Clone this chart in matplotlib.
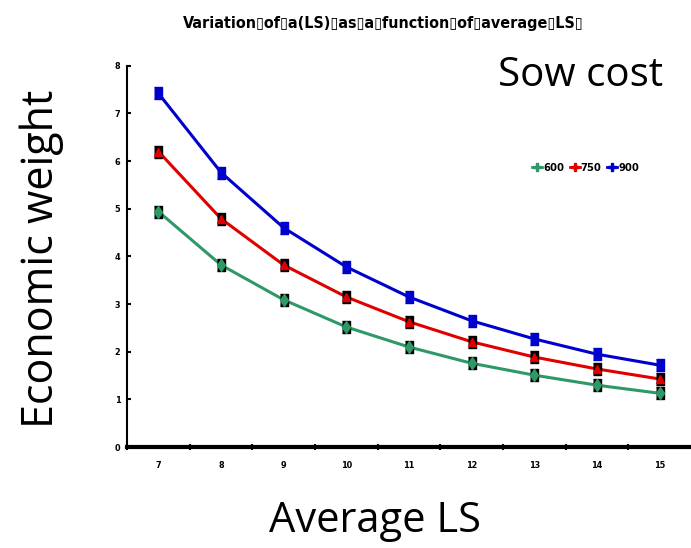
import matplotlib
matplotlib.use("Agg")
import matplotlib.pyplot as plt
from matplotlib.lines import Line2D

# data
avg_ls = [7, 8, 9, 10, 11, 12, 13, 14, 15]
w600 = [4.94, 3.82, 3.09, 2.52, 2.10, 1.76, 1.51, 1.30, 1.13]
w750 = [6.20, 4.79, 3.82, 3.15, 2.63, 2.21, 1.89, 1.64, 1.43]
w900 = [7.42, 5.76, 4.60, 3.78, 3.15, 2.65, 2.27, 1.95, 1.72]
series_names = ["600", "750", "900"]

narrow = dict(family="DejaVu Sans", stretch="condensed", weight="bold")
big = ["Open Sans", "DejaVu Sans"]

green = "#2e9966"
red = "#e00000"
blue = "#0000cc"

fig = plt.figure(figsize=(6.91, 5.48), dpi=100)
ax = fig.add_axes([0.184, 0.184, 0.816, 0.696])

xs = list(range(len(avg_ls)))
tall = [(-0.65, -1), (0.65, -1), (0.65, 1), (-0.65, 1)]

# green diamonds on black
ax.plot(xs, w600, color=green, lw=2.2, zorder=3)
ax.plot(xs, w600, ls="none", marker=tall, ms=8, color="black", zorder=4)
ax.plot(xs, w600, ls="none", marker="d", ms=6.5, color=green, zorder=5)

# red triangles on black
ax.plot(xs, w750, color=red, lw=2.2, zorder=3)
ax.plot(xs, w750, ls="none", marker=tall, ms=8, color="black", zorder=4)
ax.plot(xs, w750, ls="none", marker="^", ms=5.5, color=red, zorder=5)

# blue squares
ax.plot(xs, w900, color=blue, lw=2.2, zorder=3)
ax.plot(xs, w900, ls="none", marker=tall, ms=9, color=blue, zorder=5)

ax.set_xlim(-0.5, len(avg_ls) - 0.5)
ax.set_ylim(0, 8)
ax.set_xticks(xs)
ax.set_xticklabels([str(v) for v in avg_ls])
ax.set_xticks([x + 0.5 for x in xs[:-1]] + [-0.5], minor=True)
ax.tick_params(axis="x", which="major", length=0, pad=10)
ax.tick_params(axis="x", which="minor", length=4, width=1.5, direction="inout")
ax.set_yticks(range(0, 9))
ax.tick_params(axis="y", length=3, width=1.5, direction="in", pad=5)
for lab in ax.get_xticklabels() + ax.get_yticklabels():
    lab.set_family("DejaVu Sans")
    lab.set_stretch("condensed")
    lab.set_fontweight("bold")
    lab.set_fontsize(6.5)

for s in ["top", "right"]:
    ax.spines[s].set_visible(False)
ax.spines["bottom"].set_linewidth(3)
ax.spines["left"].set_linewidth(1.5)

handles = [Line2D([], [], color=c, lw=2, marker="P", ms=5.5)
           for c in [green, red, blue]]
leg = ax.legend(handles, series_names, loc="center left",
                bbox_to_anchor=(0.7, 0.732), ncol=3, frameon=False,
                handlelength=0.9, handletextpad=0.1, columnspacing=0.5,
                prop=dict(narrow, size=8))

fig.text(0.554, 0.958,
         "Variation\u25afof\u25afa(LS)\u25afas\u25afa\u25affunction\u25afof\u25afaverage\u25afLS\u25af",
         ha="center", va="center", fontsize=11.5, **narrow)
fig.text(0.84, 0.862, "Sow cost", ha="center", va="center", family=big, fontsize=29)
fig.text(0.06, 0.527, "Economic weight", ha="center", va="center",
         rotation=90, family=big, fontsize=31)
fig.text(0.543, 0.05, "Average LS", ha="center", va="center", family=big, fontsize=30)

fig.savefig("out.png", dpi=100)
